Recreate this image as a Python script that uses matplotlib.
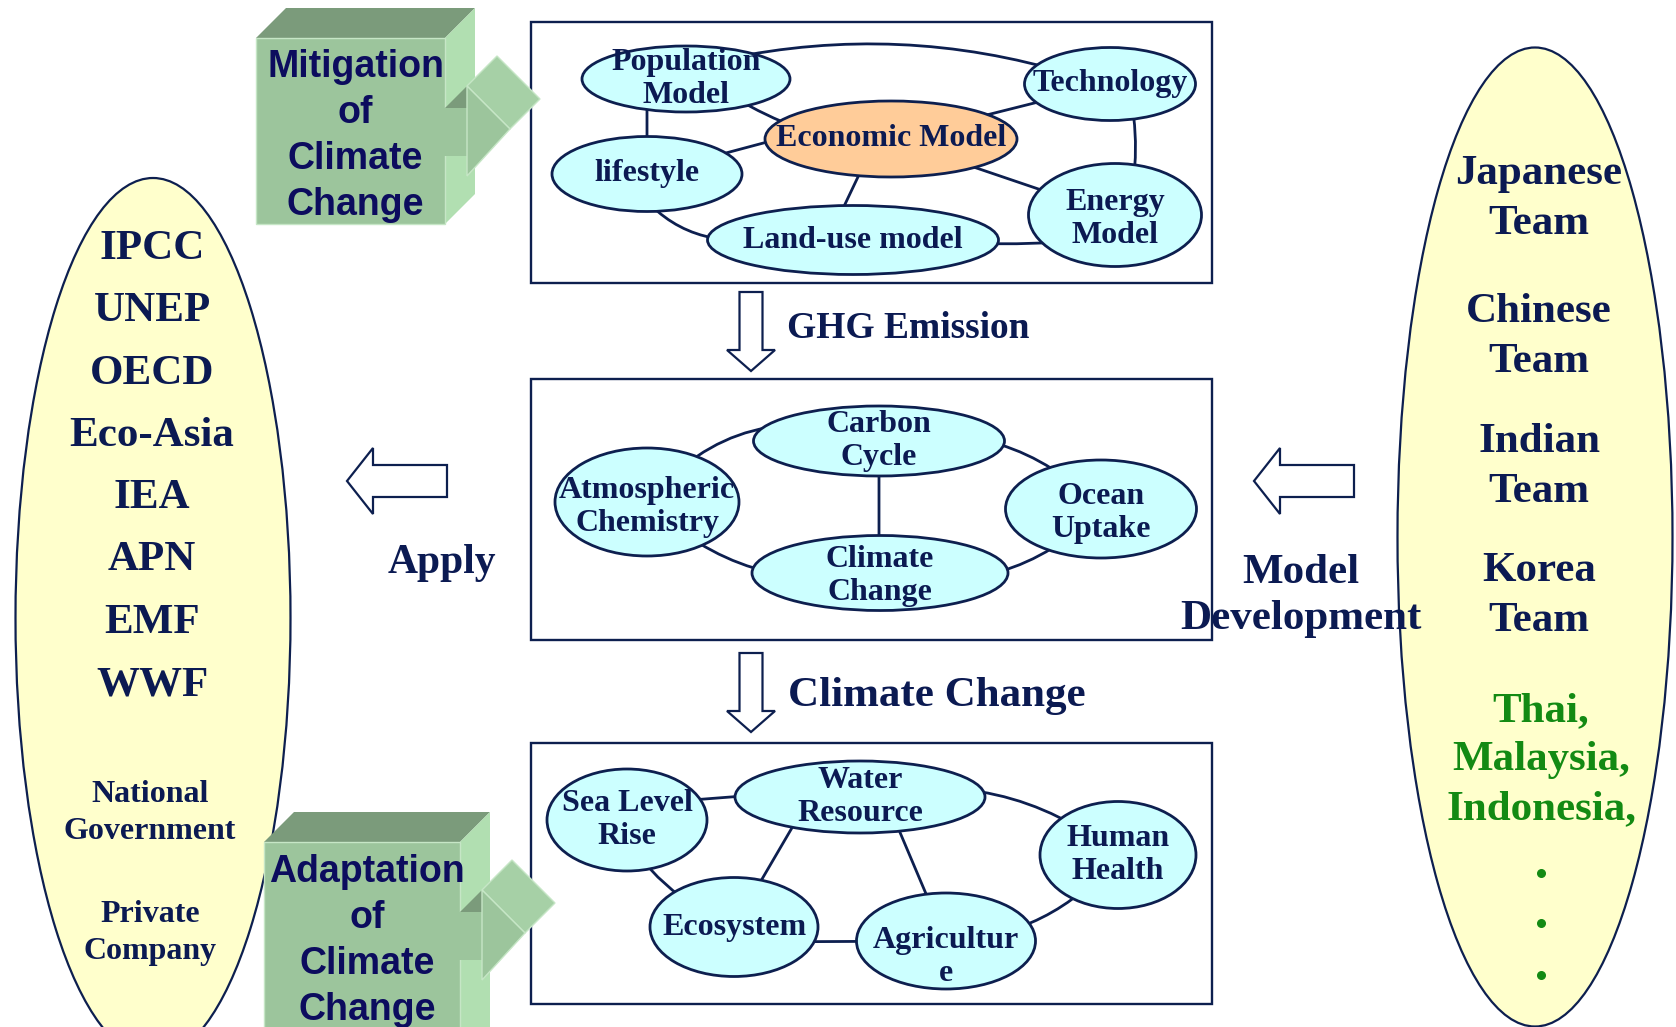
import matplotlib
matplotlib.use("Agg")
import matplotlib.pyplot as plt
from matplotlib.patches import Ellipse, Rectangle, Polygon, PathPatch
from matplotlib.path import Path
import numpy as np

NAVY = "#0d1f4f"
TXT = "#0b1a52"
SANS_TXT = "#0c0c5e"
GREEN = "#138a13"
CYAN = "#ccffff"
ORANGE = "#ffcc99"
YELLOW = "#ffffcc"

# ---- data: labels ----
top_nodes = ["Population\nModel", "Technology", "Economic Model", "lifestyle",
             "Land-use model", "Energy\nModel"]
mid_nodes = ["Carbon\nCycle", "Atmospheric\nChemistry", "Ocean\nUptake", "Climate\nChange"]
bot_nodes = ["Sea Level\nRise", "Water\nResource", "Human\nHealth", "Ecosystem", "Agricultur\ne"]

left_orgs = ["IPCC", "UNEP", "OECD", "Eco-Asia", "IEA", "APN", "EMF", "WWF"]
left_others = ["National\nGovernment", "Private\nCompany"]
right_teams = ["Japanese\nTeam", "Chinese\nTeam", "Indian\nTeam", "Korea\nTeam"]
right_others = "Thai,\nMalaysia,\nIndonesia,"

flow_labels = ["GHG Emission", "Climate Change"]
side_labels = ["Apply", "Model\nDevelopment"]
box3d_labels = ["Mitigation\nof\nClimate\nChange", "Adaptation\nof\nClimate\nChange"]

# ---- layout (pixel coordinates, y down) ----
node_pos = {
    "Population\nModel": (686, 79, 208, 66),
    "Technology": (1110, 84, 171, 73),
    "Economic Model": (891, 139, 252, 76),
    "lifestyle": (647, 174, 190, 75),
    "Land-use model": (853, 240, 291, 69),
    "Energy\nModel": (1115, 215, 173, 103),
    "Carbon\nCycle": (879, 441, 251, 70),
    "Atmospheric\nChemistry": (647, 502, 184, 108),
    "Ocean\nUptake": (1101, 509, 191, 98),
    "Climate\nChange": (880, 573, 256, 75),
    "Sea Level\nRise": (627, 820, 160, 102),
    "Water\nResource": (860, 797, 250, 72),
    "Human\nHealth": (1118, 855, 156, 107),
    "Ecosystem": (734, 927, 168, 99),
    "Agricultur\ne": (946, 941, 179, 96),
}
label_dy = {"Agricultur\ne": 16, "Atmospheric\nChemistry": 5, "Ocean\nUptake": 4, "Energy\nModel": 4,
            "Climate\nChange": 3}

# edges: (a, b, bend, a_offset, b_offset)
edges = [
    ("Population\nModel", "Technology", 22, (40, -20), (-40, -10)),
    ("Population\nModel", "Economic Model", -6, (20, 0), (-60, 0)),
    ("lifestyle", "Population\nModel", 0, (0, 0), (-39, 0)),
    ("lifestyle", "Economic Model", 0, (0, 0), (-90, -6)),
    ("lifestyle", "Land-use model", -22, (-20, 0), (-100, 0)),
    ("Economic Model", "Land-use model", 0, (-15, 0), (-25, 0)),
    ("Economic Model", "Technology", 0, (0, 0), (0, 0)),
    ("Economic Model", "Energy\nModel", 0, (0, 0), (0, 0)),
    ("Technology", "Energy\nModel", 8, (18, 0), (12, 0)),
    ("Land-use model", "Energy\nModel", -4, (0, 0), (0, 25)),
    ("Atmospheric\nChemistry", "Carbon\nCycle", 42, (0, 0), (0, 0)),
    ("Carbon\nCycle", "Ocean\nUptake", 32, (0, 0), (0, 0)),
    ("Carbon\nCycle", "Climate\nChange", 0, (0, 0), (-1, 0)),
    ("Atmospheric\nChemistry", "Climate\nChange", -32, (0, 0), (0, 0)),
    ("Climate\nChange", "Ocean\nUptake", -32, (0, 0), (0, 0)),
    ("Sea Level\nRise", "Water\nResource", 0, (0, -15), (0, -10)),
    ("Sea Level\nRise", "Ecosystem", -14, (-12, 0), (0, 0)),
    ("Water\nResource", "Ecosystem", 0, (-50, 0), (0, 0)),
    ("Water\nResource", "Agricultur\ne", 0, (25, 0), (0, 0)),
    ("Ecosystem", "Agricultur\ne", 0, (0, 15), (0, 0)),
    ("Water\nResource", "Human\nHealth", 32, (0, 0), (0, 0)),
    ("Agricultur\ne", "Human\nHealth", -22, (0, 0), (0, 0)),
]

frames = [(531, 22, 681, 261), (531, 379, 681, 261), (531, 743, 681, 261)]

fig = plt.figure(figsize=(16.76, 10.27), dpi=100)
ax = fig.add_axes([0, 0, 1, 1])
ax.set_xlim(0, 1676)
ax.set_ylim(1027, 0)
ax.axis("off")

serif = dict(family="Liberation Serif", weight="bold", color=TXT)

# big side ellipses
ax.add_patch(Ellipse((153, 618), 275, 880, fc=YELLOW, ec=NAVY, lw=1.6, zorder=1))
ax.add_patch(Ellipse((1535, 537), 275, 979, fc=YELLOW, ec=NAVY, lw=1.6, zorder=1))

for i, name in enumerate(left_orgs):
    ax.text(152, 249 + i * 62.3, name, ha="center", va="center", fontsize=31, zorder=5, **serif)
for name, y in zip(left_others, [813, 933]):
    ax.text(150, y, name, ha="center", va="center", fontsize=23, linespacing=1.4, zorder=5, **serif)

for name, y in zip(right_teams, [199, 337, 467, 596]):
    ax.text(1539, y, name, ha="center", va="center", fontsize=31, linespacing=1.4, zorder=5, **serif)
ax.text(1541, 760, right_others, ha="center", va="center", fontsize=31, linespacing=1.38, zorder=5,
        family="Liberation Serif", weight="bold", color=GREEN)
ax.scatter([1541] * 3, [873, 923, 975], s=30, color=GREEN, zorder=5)

# frames
for x, y, w, h in frames:
    ax.add_patch(Rectangle((x, y), w, h, fill=False, ec=NAVY, lw=1.7, zorder=2))

# edges
for a, b, bend, ao, bo in edges:
    x1, y1 = node_pos[a][0] + ao[0], node_pos[a][1] + ao[1]
    x2, y2 = node_pos[b][0] + bo[0], node_pos[b][1] + bo[1]
    dx, dy = x2 - x1, y2 - y1
    ln = np.hypot(dx, dy)
    nx, ny = dy / ln, -dx / ln
    mx, my = (x1 + x2) / 2, (y1 + y2) / 2
    cx, cy = mx + 2 * bend * nx, my + 2 * bend * ny
    p = Path([(x1, y1), (cx, cy), (x2, y2)], [Path.MOVETO, Path.CURVE3, Path.CURVE3])
    ax.add_patch(PathPatch(p, fill=False, ec=NAVY, lw=2.0, zorder=3))

# nodes
for name, (x, y, w, h) in node_pos.items():
    fc = ORANGE if name == "Economic Model" else CYAN
    ax.add_patch(Ellipse((x, y), w, h, fc=fc, ec=NAVY, lw=2.0, zorder=4))
    ax.text(x, y + label_dy.get(name, 0), name, ha="center", va="center", fontsize=23,
            linespacing=1.2, zorder=5, **serif)


# hollow block arrows
def down_arrow(xc, ytop):
    pts = [(xc - 11.5, ytop), (xc + 11.5, ytop), (xc + 11.5, ytop + 58), (xc + 24, ytop + 58),
           (xc, ytop + 79), (xc - 24, ytop + 58), (xc - 11.5, ytop + 58)]
    ax.add_patch(Polygon(pts, closed=True, fc="white", ec=NAVY, lw=1.6, zorder=3))


def left_arrow(xtip, yc):
    pts = [(xtip, yc), (xtip + 26, yc - 33), (xtip + 26, yc - 16), (xtip + 100, yc - 16),
           (xtip + 100, yc + 16), (xtip + 26, yc + 16), (xtip + 26, yc + 33)]
    ax.add_patch(Polygon(pts, closed=True, fc="white", ec=NAVY, lw=1.6, zorder=3))


down_arrow(751, 292)
down_arrow(751, 653)
left_arrow(347, 481)
left_arrow(1254, 481)

ax.text(787, 329, flow_labels[0], ha="left", va="center", fontsize=27, zorder=5, **serif)
ax.text(788, 696, flow_labels[1], ha="left", va="center", fontsize=31, zorder=5, **serif)
ax.text(442, 563, side_labels[0], ha="center", va="center", fontsize=30, zorder=5, **serif)
ax.text(1301, 596, side_labels[1], ha="center", va="center", fontsize=31, zorder=6,
        linespacing=1.25, **serif)


# 3D green boxes with arrow
FRONT = "#9cc59c"
TOP = "#7b9b7b"
SIDE = "#b1dfb1"
HEADTOP = "#a6d0a6"


def box3d(x0, y0, w, h, label, ty):
    d = 30
    xr = x0 + w
    ax.add_patch(Polygon([(x0, y0), (x0 + d, y0 - d), (xr + d, y0 - d), (xr, y0)],
                         fc=TOP, ec="none", zorder=7))
    ax.add_patch(Polygon([(xr, y0), (xr + d, y0 - d), (xr + d, y0 + h - d), (xr, y0 + h)],
                         fc=SIDE, ec="none", zorder=7))
    ax.add_patch(Rectangle((x0, y0), w, h, fc=FRONT, ec="#c6e6c6", lw=1.0, zorder=7))
    ym = y0 + 94
    hb = xr + 22
    # shaft top (shadow) and shaft front
    ax.add_patch(Polygon([(xr, ym - 24), (hb, ym - 46), (hb, ym - 24)], fc=TOP, ec="none", zorder=8))
    ax.add_patch(Rectangle((xr - 2, ym - 24), hb - xr + 2, 48, fc=FRONT, ec="none", zorder=8))
    # head: top face and front triangle
    ax.add_patch(Polygon([(hb, ym - 46), (hb + d, ym - 46 - d), (hb + 43 + d, ym - 3 - d), (hb + 43, ym - 3)],
                         fc=HEADTOP, ec="#c6e6c6", lw=1.0, zorder=8))
    ax.add_patch(Polygon([(hb, ym - 46), (hb + 43, ym - 3), (hb, ym + 44)],
                         fc=FRONT, ec="#c6e6c6", lw=1.0, zorder=9))
    lines = label.split("\n")
    for k, s in enumerate(lines):
        ax.text(x0 + w / 2 + 5, ty + k * 46, s, ha="center", va="center", fontsize=27,
                family="Liberation Sans", weight="bold", color=SANS_TXT, zorder=10)


box3d(256, 38, 189, 186, box3d_labels[0], 67)
box3d(264, 842, 196, 230, box3d_labels[1], 872)

fig.savefig("out.png", dpi=100)
